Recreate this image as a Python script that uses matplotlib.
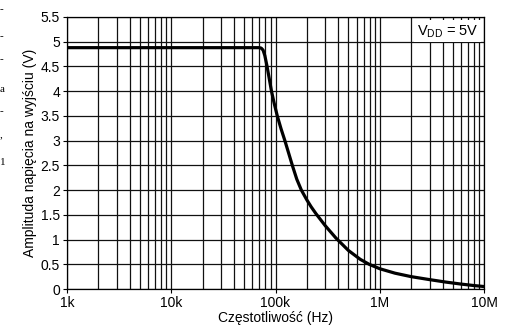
"""Output amplitude vs frequency chart."""
import matplotlib
matplotlib.use("Agg")
import matplotlib.pyplot as plt
from matplotlib.ticker import FixedLocator, NullFormatter

plt.rcParams["font.family"] = ["Liberation Sans", "DejaVu Sans"]

# values
freq_hz = [1e3, 7.0e4, 7.3e4, 7.6e4, 7.9e4, 8.3e4, 8.7e4, 9.15e4, 9.7e4,
           1.04e5, 1.13e5, 1.23e5, 1.34e5, 1.45e5, 1.6e5, 1.77e5, 2.0e5,
           2.2e5, 2.45e5, 3.0e5, 3.8e5, 5.0e5, 6.5e5, 7.9e5, 1e6, 1.4e6,
           2e6, 3e6, 4.3e6, 6e6, 8e6, 1e7]
vout = [4.88, 4.88, 4.87, 4.83, 4.72, 4.5, 4.26, 4.0, 3.76,
        3.5, 3.24, 3.0, 2.74, 2.5, 2.22, 2.0, 1.8,
        1.66, 1.52, 1.28, 1.03, 0.78, 0.6, 0.5, 0.41, 0.32,
        0.25, 0.19, 0.14, 0.1, 0.07, 0.05]

x_ticks = [1e3, 1e4, 1e5, 1e6, 1e7]
x_labels = ["1k", "10k", "100k", "1M", "10M"]
y_ticks = [0, 0.5, 1, 1.5, 2, 2.5, 3, 3.5, 4, 4.5, 5, 5.5]
y_labels = ["0", "0.5", "1", "1.5", "2", "2.5", "3", "3.5", "4", "4.5", "5", "5.5"]

fig = plt.figure(figsize=(5.13, 3.32), dpi=100)
ax = fig.add_axes([0.1306, 0.1295, 0.8129, 0.8193])

ax.set_xscale("log")
ax.set_xlim(1e3, 1e7)
ax.set_ylim(0, 5.5)

minors = [m * 10 ** e for e in range(3, 7) for m in range(2, 10)]
ax.xaxis.set_minor_locator(FixedLocator(minors))
ax.xaxis.set_minor_formatter(NullFormatter())
ax.set_xticks(x_ticks, x_labels)
ax.set_yticks(y_ticks, y_labels)

for v in minors + x_ticks:
    ax.axvline(v, color="#111111", lw=0.9, zorder=1)
for v in y_ticks:
    ax.axhline(v, color="#111111", lw=0.9, zorder=1)

ax.plot(freq_hz, vout, color="black", lw=2.3, zorder=3,
        solid_joinstyle="round", solid_capstyle="round")

ax.tick_params(which="major", direction="out", length=3, width=0.8,
               labelsize=10, pad=2)
ax.tick_params(which="minor", length=0)
for s in ax.spines.values():
    s.set_linewidth(0.9)

ax.text(0.987, 0.978, r"V$_{\mathregular{DD}}$ = 5V", transform=ax.transAxes,
        ha="right", va="top", fontsize=10.5, zorder=5,
        bbox=dict(facecolor="white", edgecolor="none", pad=2.0))

ax.set_xlabel("Częstotliwość (Hz)", fontsize=10, labelpad=1)
ax.set_ylabel("Amplituda napięcia na wyjściu (V)", fontsize=10, labelpad=3)

# cut-off pieces of neighbouring text at the left edge
for y, s in [(0.97, "-"), (0.89, "-"), (0.82, "-"), (0.73, "a"),
             (0.665, "-"), (0.595, ","), (0.51, "1")]:
    fig.text(0.0, y, s, fontsize=8, family="Liberation Serif", ha="left", va="center")

fig.savefig("out.png", dpi=100)
